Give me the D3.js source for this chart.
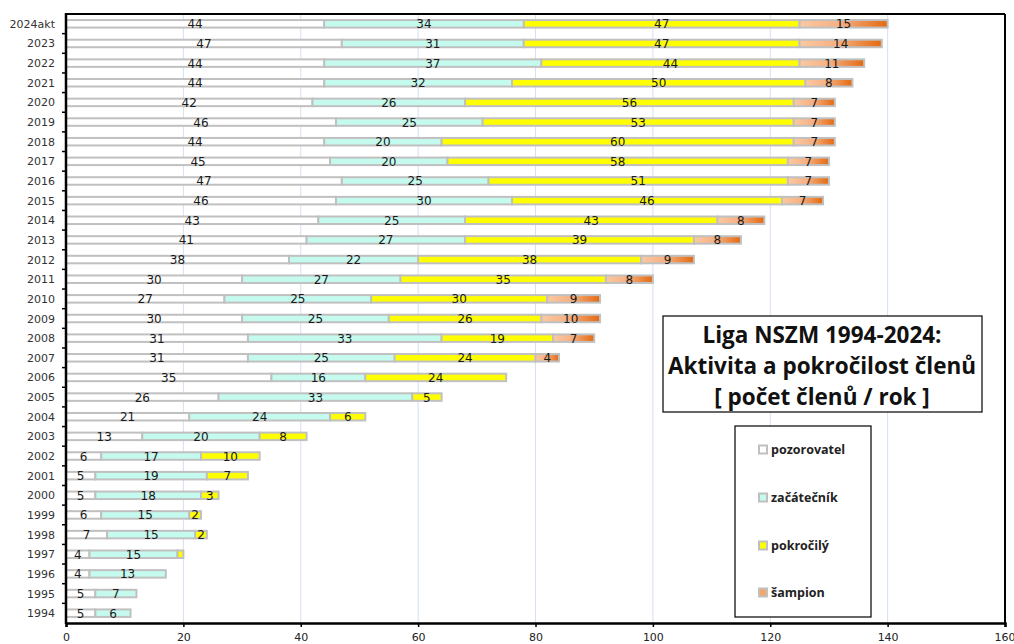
<!DOCTYPE html>
<html>
<head>
<meta charset="utf-8">
<script src="https://cdn.jsdelivr.net/npm/d3@7"></script>
<style>
  body { margin: 0; background: #fff; }
  svg { display: block; }
</style>
</head>
<body>
<svg id="chart" width="1014" height="644"></svg>
<script>
// categories top to bottom
var years = ["2024akt", "2023", "2022", "2021", "2020", "2019", "2018", "2017", "2016", "2015",
    "2014", "2013", "2012", "2011", "2010", "2009", "2008", "2007", "2006", "2005",
    "2004", "2003", "2002", "2001", "2000", "1999", "1998", "1997", "1996", "1995", "1994"];

var pozorovatel = [44, 47, 44, 44, 42, 46, 44, 45, 47, 46, 43, 41, 38, 30, 27, 30, 31, 31, 35, 26, 21, 13, 6, 5, 5, 6, 7, 4, 4, 5, 5];
var zacatecnik  = [34, 31, 37, 32, 26, 25, 20, 20, 25, 30, 25, 27, 22, 27, 25, 25, 33, 25, 16, 33, 24, 20, 17, 19, 18, 15, 15, 15, 13, 7, 6];
var pokrocily   = [47, 47, 44, 50, 56, 53, 60, 58, 51, 46, 43, 39, 38, 35, 30, 26, 19, 24, 24, 5, 6, 8, 10, 7, 3, 2, 2, 1, 0, 0, 0];
var sampion     = [15, 14, 11, 8, 7, 7, 7, 7, 7, 7, 8, 8, 9, 8, 9, 10, 7, 4, 0, 0, 0, 0, 0, 0, 0, 0, 0, 0, 0, 0, 0];

var seriesNames = ["pozorovatel", "začátečník", "pokročilý", "šampion"];
var seriesValues = [pozorovatel, zacatecnik, pokrocily, sampion];
var seriesFills = ["#ffffff", "#c4fbee", "#ffff00", "url(#champGrad)"];
var legendFills = ["#ffffff", "#c4fbee", "#ffff00", "#f4a56a"];

var xTicks = [0, 20, 40, 60, 80, 100, 120, 140, 160];

var svg = d3.select("#chart");
var plotLeft = 66, plotRight = 1005, plotTop = 14, plotBottom = 623;

var x = d3.scaleLinear().domain([0, 160]).range([plotLeft, plotRight]);
var y = d3.scaleBand().domain(years).range([plotTop, plotBottom]).padding(0);

// gradient for šampion
var defs = svg.append("defs");
var grad = defs.append("linearGradient").attr("id", "champGrad")
    .attr("x1", "0%").attr("x2", "100%").attr("y1", "0%").attr("y2", "0%");
grad.append("stop").attr("offset", "0%").attr("stop-color", "#fbc9a2");
grad.append("stop").attr("offset", "45%").attr("stop-color", "#f6b083");
grad.append("stop").attr("offset", "100%").attr("stop-color", "#e4690f");

// vertical gridlines
svg.append("g").selectAll("line")
    .data(xTicks.slice(1, -1))
    .enter().append("line")
    .attr("x1", function (d) { return x(d); })
    .attr("x2", function (d) { return x(d); })
    .attr("y1", plotTop).attr("y2", plotBottom)
    .attr("stroke", "#d5e0f0").attr("stroke-width", 1);

// build stacked segments
var segs = [];
for (var i = 0; i < years.length; i++) {
    var acc = 0;
    for (var s = 0; s < seriesValues.length; s++) {
        var v = seriesValues[s][i];
        if (v > 0) {
            segs.push({year: years[i], s: s, x0: acc, x1: acc + v, v: v});
        }
        acc += v;
    }
}

var barH = 7.5;
svg.append("g").selectAll("rect")
    .data(segs)
    .enter().append("rect")
    .attr("x", function (d) { return x(d.x0); })
    .attr("width", function (d) { return x(d.x1) - x(d.x0); })
    .attr("y", function (d) { return y(d.year) + y.bandwidth() / 2 - barH / 2; })
    .attr("height", barH)
    .attr("fill", function (d) { return seriesFills[d.s]; })
    .attr("stroke", "#c0c0c0")
    .attr("stroke-width", 2);

// value labels
svg.append("g").selectAll("text")
    .data(segs.filter(function (d) { return d.v >= 2; }))
    .enter().append("text")
    .attr("x", function (d) { return (x(d.x0) + x(d.x1)) / 2; })
    .attr("y", function (d) { return y(d.year) + y.bandwidth() / 2 + 4.5; })
    .attr("text-anchor", "middle")
    .attr("font-family", "DejaVu Sans, Verdana, sans-serif")
    .attr("font-size", "12px")
    .attr("fill", "#1a1a1a")
    .text(function (d) { return d.v; });

// frame: top and right
svg.append("line").attr("x1", plotLeft).attr("x2", plotRight).attr("y1", plotTop).attr("y2", plotTop)
    .attr("stroke", "#000").attr("stroke-width", 2);
svg.append("line").attr("x1", plotRight).attr("x2", plotRight).attr("y1", plotTop).attr("y2", plotBottom)
    .attr("stroke", "#000").attr("stroke-width", 2);

// left axis
svg.append("line").attr("x1", plotLeft).attr("x2", plotLeft).attr("y1", plotTop - 1).attr("y2", plotBottom + 1)
    .attr("stroke", "#000").attr("stroke-width", 2.5);
svg.append("g").selectAll("line")
    .data(years.slice(1))
    .enter().append("line")
    .attr("x1", plotLeft - 4).attr("x2", plotLeft)
    .attr("y1", function (d) { return y(d); })
    .attr("y2", function (d) { return y(d); })
    .attr("stroke", "#000").attr("stroke-width", 1.5);
svg.append("g").selectAll("text")
    .data(years)
    .enter().append("text")
    .attr("x", 55)
    .attr("y", function (d) { return y(d) + y.bandwidth() / 2 + 4; })
    .attr("text-anchor", "end")
    .attr("font-family", "DejaVu Sans, Verdana, sans-serif")
    .attr("font-size", "11px")
    .attr("fill", "#333")
    .text(function (d) { return d; });

// bottom axis
var xAxis = d3.axisBottom(x).tickValues(xTicks).tickSize(4).tickPadding(6);
var gx = svg.append("g").attr("transform", "translate(0," + plotBottom + ")").call(xAxis);
gx.select(".domain").attr("stroke", "#000").attr("stroke-width", 2.5);
gx.selectAll(".tick line").attr("stroke", "#000").attr("stroke-width", 1.5);
gx.selectAll(".tick text")
    .attr("font-family", "DejaVu Sans, Verdana, sans-serif")
    .attr("font-size", "11px")
    .attr("fill", "#222");
// the last label sits at the window edge
gx.selectAll(".tick text").filter(function (d) { return d === 160; })
    .attr("text-anchor", "end").attr("dx", "10");

// title box
var tb = svg.append("g");
tb.append("rect").attr("x", 663).attr("y", 316).attr("width", 319).attr("height", 96)
    .attr("fill", "#fff").attr("stroke", "#000").attr("stroke-width", 1.2);
var titleLines = ["Liga NSZM 1994-2024:", "Aktivita a pokročilost členů", "[ počet členů / rok ]"];
tb.selectAll("text")
    .data(titleLines)
    .enter().append("text")
    .attr("x", 822)
    .attr("y", function (d, i) { return 343 + i * 31; })
    .attr("text-anchor", "middle")
    .attr("font-family", "Open Sans, sans-serif")
    .attr("font-weight", "bold")
    .attr("font-size", "22.5px")
    .attr("fill", "#111")
    .text(function (d) { return d; });

// legend
var lg = svg.append("g");
lg.append("rect").attr("x", 735).attr("y", 426).attr("width", 136).attr("height", 191)
    .attr("fill", "#fff").attr("stroke", "#000").attr("stroke-width", 1.2);
var legendY = [450, 498, 546, 593];
var items = lg.selectAll("g.item")
    .data(seriesNames)
    .enter().append("g")
    .attr("transform", function (d, i) { return "translate(0," + legendY[i] + ")"; });
items.append("rect")
    .attr("x", 759).attr("y", -4.5).attr("width", 8).attr("height", 8)
    .attr("fill", function (d, i) { return legendFills[i]; })
    .attr("stroke", "#c0c0c0").attr("stroke-width", 2);
items.append("text")
    .attr("x", 771).attr("y", 4)
    .attr("font-family", "Open Sans, sans-serif")
    .attr("font-weight", "bold")
    .attr("font-size", "12.5px")
    .attr("fill", "#222")
    .text(function (d) { return d; });
</script>
</body>
</html>
